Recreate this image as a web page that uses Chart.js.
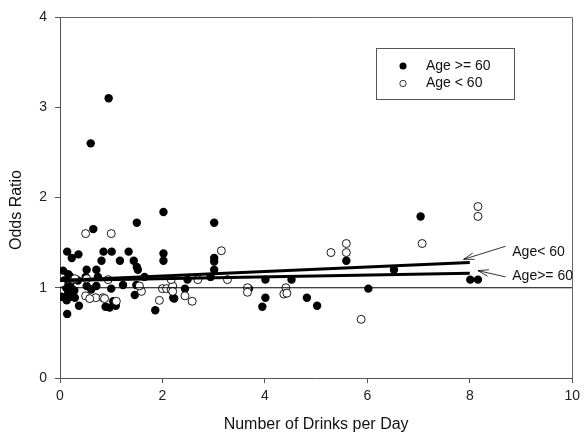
<!DOCTYPE html>
<html>
<head>
<meta charset="utf-8">
<script src="https://cdn.jsdelivr.net/npm/chart.js@4"></script>
<style>
html,body{margin:0;padding:0;background:#fff;}
canvas{display:block;}
</style>
</head>
<body>
<canvas id="c" width="585" height="438"></canvas>
<script>
// ---- Data ----
const seriesLabels = ['Age >= 60', 'Age < 60'];

const drinksOld = [0.95,0.60,0.65,1.50,2.02,
  0.14,0.36,0.23,0.85,1.01,1.34,0.81,1.17,1.44,1.50,1.52,2.02,2.02,
  0.06,0.16,0.52,0.71,0.74,0.50,1.65,0.19,
  0.03,0.14,0.29,0.37,0.23,0.52,0.71,0.89,0.97,1.09,1.00,1.46,1.86,2.21,1.23,1.49,
  0.16,0.23,0.13,0.61,1.04,0.08,0.20,0.28,0.12,0.35,
  3.01,3.01,3.01,3.01,2.94,2.49,2.44,2.23,4.01,4.01,3.95,4.52,3.69,4.82,
  7.04,5.59,6.52,6.02,5.02,8.01,8.16];
const oddsOld = [3.10,2.60,1.65,1.72,1.84,
  1.40,1.37,1.33,1.40,1.40,1.40,1.30,1.30,1.30,1.23,1.20,1.38,1.30,
  1.19,1.15,1.20,1.20,1.12,1.12,1.12,1.13,
  0.90,0.71,0.89,0.80,0.98,1.02,1.02,0.79,0.78,0.80,0.99,0.92,0.75,0.89,1.03,1.03,
  0.94,0.90,0.86,0.98,0.85,1.08,1.02,0.97,1.00,1.08,
  1.72,1.33,1.29,1.20,1.12,1.09,0.99,0.88,1.09,0.89,0.79,1.09,0.99,0.89,
  1.79,1.30,1.20,0.99,0.80,1.09,1.09];

const drinksYoung = [0.50,1.00,0.94,0.27,0.50,0.70,0.84,1.10,1.59,1.94,2.00,2.08,2.17,1.55,
  3.15,3.27,2.69,2.44,2.58,2.20,2.20,2.17,3.66,3.66,4.41,4.37,4.43,
  5.29,5.59,5.59,7.07,8.16,8.16,5.88,
  0.29,0.52,0.02,0.58,0.87];
const oddsYoung = [1.60,1.60,1.09,1.09,0.91,0.89,0.89,0.85,0.96,0.86,0.99,0.99,0.98,1.02,
  1.41,1.09,1.09,0.91,0.85,1.02,0.96,1.09,1.00,0.95,1.00,0.93,0.94,
  1.39,1.49,1.39,1.49,1.90,1.79,0.65,
  1.10,1.10,1.05,0.88,0.88];

// fitted lines
const fitDrinks = [0, 8];
const fitYoung = [1.08, 1.28];
const fitOld = [1.08, 1.16];

// reference line at odds ratio = 1
const refDrinks = [0, 10];
const refOdds = [1, 1];

// annotation labels
const annotLabels = ['Age< 60', 'Age>= 60'];

// ---- Build chart ----
const toPts = (xs, ys) => xs.map((v, i) => ({x: v, y: ys[i]}));
const FONT = "'Liberation Sans', Arial, sans-serif";

// annotation geometry in data units
const annots = [
  {text: annotLabels[0], tx: 8.83, ty: 1.39, x0: 8.70, y0: 1.46, x1: 7.88, y1: 1.315},
  {text: annotLabels[1], tx: 8.83, ty: 1.13, x0: 8.70, y0: 1.12, x1: 8.16, y1: 1.19}
];

const decor = {
  id: 'decor',
  afterDraw(chart) {
    const {ctx, chartArea: a, scales: {x, y}} = chart;
    ctx.save();
    // frame top and right
    ctx.strokeStyle = '#666';
    ctx.lineWidth = 1;
    ctx.beginPath();
    ctx.moveTo(a.left, Math.round(a.top) + 0.5);
    ctx.lineTo(Math.round(a.right) + 0.5, Math.round(a.top) + 0.5);
    ctx.lineTo(Math.round(a.right) + 0.5, a.bottom);
    ctx.stroke();

    // y axis title
    ctx.save();
    ctx.translate(17, 210);
    ctx.rotate(-Math.PI / 2);
    ctx.fillStyle = '#111';
    ctx.font = '16px ' + FONT;
    ctx.textAlign = 'center';
    ctx.textBaseline = 'middle';
    ctx.fillText('Odds Ratio', 0, 0);
    ctx.restore();

    // legend
    const lx = 376, ly = 48, lw = 138, lh = 51;
    ctx.strokeStyle = '#555';
    ctx.strokeRect(lx + 0.5, ly + 0.5, lw, lh);
    ctx.font = '14px ' + FONT;
    ctx.textBaseline = 'middle';
    ctx.textAlign = 'left';
    ctx.fillStyle = '#111';
    // filled marker
    ctx.beginPath(); ctx.arc(403, 66, 3.5, 0, Math.PI * 2); ctx.fillStyle = '#000'; ctx.fill();
    ctx.fillStyle = '#111'; ctx.fillText(seriesLabels[0], 426, 66);
    // open marker
    ctx.beginPath(); ctx.arc(403, 83.5, 3.2, 0, Math.PI * 2);
    ctx.fillStyle = '#fff'; ctx.fill(); ctx.strokeStyle = '#000'; ctx.lineWidth = 0.8; ctx.stroke();
    ctx.fillStyle = '#111'; ctx.fillText(seriesLabels[1], 426, 83.5);

    // annotations with arrows
    ctx.strokeStyle = '#000';
    ctx.lineWidth = 0.8;
    annots.forEach(an => {
      const px0 = x.getPixelForValue(an.x0), py0 = y.getPixelForValue(an.y0);
      const px1 = x.getPixelForValue(an.x1), py1 = y.getPixelForValue(an.y1);
      ctx.beginPath(); ctx.moveTo(px0, py0); ctx.lineTo(px1, py1); ctx.stroke();
      const ang = Math.atan2(py0 - py1, px0 - px1);
      const L = 11, spread = 0.3;
      ctx.beginPath();
      ctx.moveTo(px1 + L * Math.cos(ang + spread), py1 + L * Math.sin(ang + spread));
      ctx.lineTo(px1, py1);
      ctx.lineTo(px1 + L * Math.cos(ang - spread), py1 + L * Math.sin(ang - spread));
      ctx.stroke();
      ctx.fillStyle = '#111';
      ctx.font = '14px ' + FONT;
      ctx.textAlign = 'left';
      ctx.textBaseline = 'middle';
      ctx.fillText(an.text, x.getPixelForValue(an.tx), y.getPixelForValue(an.ty));
    });
    ctx.restore();
  }
};

new Chart(document.getElementById('c'), {
  type: 'scatter',
  data: {
    datasets: [
      {label: 'fit young', type: 'line', data: toPts(fitDrinks, fitYoung), borderColor: '#000', borderWidth: 3, pointRadius: 0, fill: false, order: 0},
      {label: 'fit old', type: 'line', data: toPts(fitDrinks, fitOld), borderColor: '#000', borderWidth: 3, pointRadius: 0, fill: false, order: 0},
      {label: 'ref', type: 'line', data: toPts(refDrinks, refOdds), borderColor: '#000', borderWidth: 1, pointRadius: 0, fill: false, order: 1},
      {label: seriesLabels[1], data: toPts(drinksYoung, oddsYoung), pointRadius: 4, pointBackgroundColor: '#fff', pointBorderColor: '#000', pointBorderWidth: 0.9, order: 2},
      {label: seriesLabels[0], data: toPts(drinksOld, oddsOld), pointRadius: 4.2, pointBackgroundColor: '#000', pointBorderColor: '#000', pointBorderWidth: 0, order: 3}
    ]
  },
  options: {
    responsive: false,
    devicePixelRatio: 1,
    animation: false,
    layout: {padding: {top: 17, right: 10, left: 0, bottom: 0}},
    plugins: {legend: {display: false}, tooltip: {enabled: false}},
    scales: {
      x: {
        type: 'linear', min: 0, max: 10,
        ticks: {stepSize: 2, color: '#222', font: {family: FONT, size: 14}, padding: 5, maxRotation: 0},
        grid: {display: true, drawOnChartArea: false, drawTicks: true, tickLength: 5, color: '#555'},
        border: {display: true, color: '#555'},
        title: {display: true, text: 'Number of Drinks per Day', color: '#111', font: {family: FONT, size: 16}, padding: {top: 4, bottom: 4}},
        afterFit: s => { s.height = 60; }
      },
      y: {
        type: 'linear', min: 0, max: 4,
        ticks: {stepSize: 1, color: '#222', font: {family: FONT, size: 14}, padding: 8},
        grid: {display: true, drawOnChartArea: false, drawTicks: true, tickLength: 5, color: '#555'},
        border: {display: true, color: '#555'},
        afterFit: s => { s.width = 60; }
      }
    }
  },
  plugins: [decor]
});
</script>
</body>
</html>
